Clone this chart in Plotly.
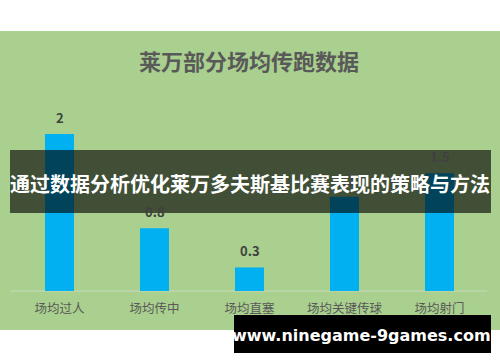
import plotly.graph_objects as go

categories = ["场均过人", "场均传中", "场均直塞", "场均关键传球", "场均射门"]
values = [2, 0.8, 0.3, 1.2, 1.5]
value_labels = ["2", "0.8", "0.3", "1.2", "1.5"]

title_text = "莱万部分场均传跑数据"
banner_text = "通过数据分析优化莱万多夫斯基比赛表现的策略与方法"
watermark_text = "www.ninegame-9games.com"

W, H = 500, 362
ml, mr, mt, mb = 12, 13, 50, 71
pw, ph = W - ml - mr, H - mt - mb

def px(x):
    return (x - ml) / pw

def py(y):
    return (H - mb - y) / ph

GREEN = "#a9d08e"
CJK = "Noto Sans CJK SC"

fig = go.Figure(go.Bar(
    x=categories, y=values,
    marker=dict(color="#00b0f0", line=dict(width=0)),
    width=0.305,
    hoverinfo="skip",
))

annotations = []
for c, v, t in zip(categories, values, value_labels):
    annotations.append(dict(x=c, y=v, xref="x", yref="y", text="<b>" + t + "</b>", showarrow=False,
                            yanchor="middle", yshift=16.5,
                            font=dict(family=CJK, size=13, color="#404040")))

annotations.append(dict(x=px(249), y=py(60), xref="paper", yref="paper", text="<b>" + title_text + "</b>",
                        showarrow=False, xanchor="center", yanchor="middle",
                        font=dict(family=CJK, size=22, color="#595959")))
annotations.append(dict(x=px(250), y=py(183), xref="paper", yref="paper", text="<b>" + banner_text + "</b>",
                        showarrow=False, xanchor="center", yanchor="middle",
                        font=dict(family=CJK, size=20, color="#ffffff")))
annotations.append(dict(x=px(361), y=py(335), xref="paper", yref="paper", text="<b>" + watermark_text + "</b>",
                        showarrow=False, xanchor="center", yanchor="middle",
                        font=dict(family="DejaVu Sans", size=16, color="#ffffff")))

shapes = [
    dict(type="rect", xref="paper", yref="paper", x0=px(0), x1=px(500), y0=py(0), y1=py(31),
         fillcolor="#ffffff", line=dict(width=0), layer="above"),
    dict(type="rect", xref="paper", yref="paper", x0=px(0), x1=px(500), y0=py(330), y1=py(362),
         fillcolor="#ffffff", line=dict(width=0), layer="above"),
    dict(type="line", xref="paper", yref="paper", x0=px(10), x1=px(487), y0=py(291), y1=py(291),
         line=dict(color="#c9d9bb", width=1), layer="below"),
    dict(type="rect", xref="paper", yref="paper", x0=px(10), x1=px(491), y0=py(150), y1=py(213),
         fillcolor="rgba(0,0,0,0.62)", line=dict(width=0), layer="above"),
    dict(type="rect", xref="paper", yref="paper", x0=px(234), x1=px(491), y0=py(315), y1=py(353),
         fillcolor="#000000", line=dict(width=0), layer="above"),
]

fig.update_layout(
    width=W, height=H,
    margin=dict(l=ml, r=mr, t=mt, b=mb, pad=0),
    paper_bgcolor=GREEN, plot_bgcolor=GREEN,
    showlegend=False,
    annotations=annotations,
    shapes=shapes,
    xaxis=dict(showgrid=False, zeroline=False, showline=False, ticks="",
               tickfont=dict(family=CJK, size=12.5, color="#595959"),
               ticklabelstandoff=8, fixedrange=True),
    yaxis=dict(range=[0, ph / 78.5], visible=False, fixedrange=True),
)

fig.write_html("out.html", config={"displayModeBar": False},
               post_script="document.body.style.margin='0';document.body.style.overflow='hidden';")
